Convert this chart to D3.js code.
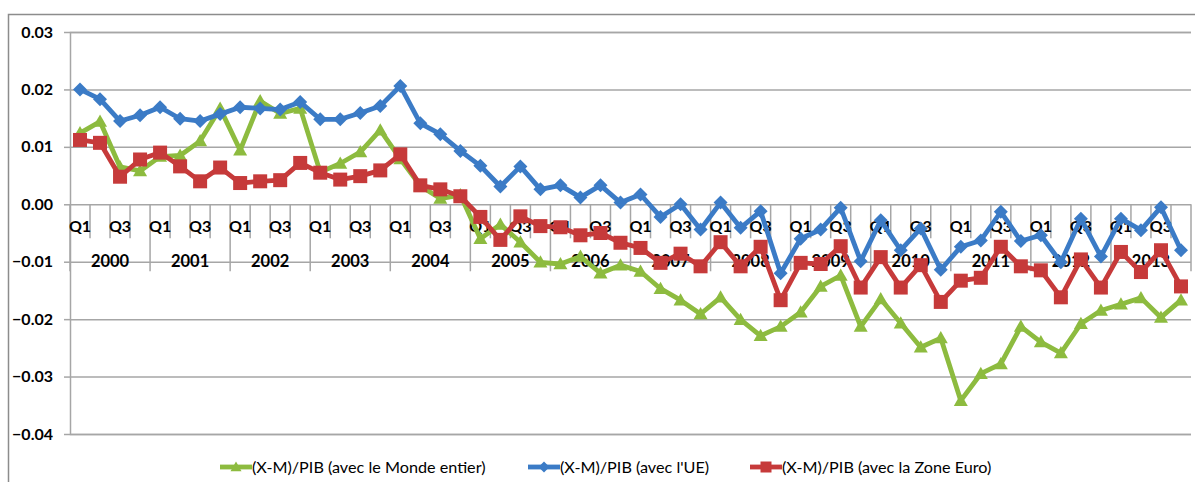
<!DOCTYPE html>
<html>
<head>
<meta charset="utf-8">
<script src="https://cdn.jsdelivr.net/npm/d3@7"></script>
<style>
  html, body { margin: 0; padding: 0; background: #fff; }
  svg { display: block; }
  text { font-family: Lato, "Open Sans", sans-serif; fill: #000; }
</style>
</head>
<body>
<svg id="chart" width="1195" height="482"></svg>
<script>
// Quarterly trade balance ratios, 2000 Q1 – 2013 Q4
const years = [2000, 2001, 2002, 2003, 2004, 2005, 2006, 2007, 2008, 2009, 2010, 2011, 2012, 2013];
const quarterLabels = ["Q1", "", "Q3", ""];
const yTicks = [0.03, 0.02, 0.01, 0.00, -0.01, -0.02, -0.03, -0.04];

const monde = [
  0.0124, 0.0144, 0.0065, 0.0058, 0.0083, 0.0085, 0.0110, 0.0167,
  0.0094, 0.0180, 0.0158, 0.0167, 0.0056, 0.0071, 0.0091, 0.0129,
  0.0079, 0.0032, 0.0010, 0.0016, -0.0060, -0.0035, -0.0066, -0.0101,
  -0.0104, -0.0091, -0.0120, -0.0106, -0.0117, -0.0147, -0.0167, -0.0191,
  -0.0162, -0.0201, -0.0229, -0.0213, -0.0188, -0.0143, -0.0124, -0.0213,
  -0.0165, -0.0207, -0.0249, -0.0233, -0.0342, -0.0295, -0.0278, -0.0213,
  -0.0240, -0.0259, -0.0208, -0.0185, -0.0174, -0.0163, -0.0197, -0.0167
];
const ue = [
  0.0200, 0.0183, 0.0145, 0.0155, 0.0169, 0.0149, 0.0145, 0.0157,
  0.0169, 0.0167, 0.0165, 0.0178, 0.0148, 0.0148, 0.0159, 0.0171,
  0.0206, 0.0141, 0.0122, 0.0093, 0.0067, 0.0031, 0.0066, 0.0026,
  0.0033, 0.0012, 0.0033, 0.0003, 0.0017, -0.0022, 0.0000, -0.0044,
  0.0003, -0.0041, -0.0012, -0.0120, -0.0060, -0.0044, -0.0006, -0.0099,
  -0.0028, -0.0080, -0.0042, -0.0114, -0.0074, -0.0063, -0.0013, -0.0064,
  -0.0054, -0.0101, -0.0025, -0.0091, -0.0025, -0.0045, -0.0005, -0.0080
];
const zoneEuro = [
  0.0112, 0.0107, 0.0048, 0.0078, 0.0090, 0.0066, 0.0040, 0.0064,
  0.0037, 0.0040, 0.0042, 0.0072, 0.0055, 0.0043, 0.0049, 0.0059,
  0.0087, 0.0033, 0.0026, 0.0014, -0.0022, -0.0062, -0.0021, -0.0038,
  -0.0040, -0.0054, -0.0050, -0.0067, -0.0076, -0.0102, -0.0086, -0.0108,
  -0.0066, -0.0108, -0.0074, -0.0167, -0.0102, -0.0104, -0.0073, -0.0145,
  -0.0092, -0.0145, -0.0106, -0.0170, -0.0133, -0.0128, -0.0074, -0.0108,
  -0.0115, -0.0162, -0.0096, -0.0145, -0.0083, -0.0118, -0.0080, -0.0143
];

const seriesNames = [
  "(X-M)/PIB (avec le Monde entier)",
  "(X-M)/PIB (avec l'UE)",
  "(X-M)/PIB (avec la Zone Euro)"
];
const seriesColors = ["#8DBB3F", "#3B7BC6", "#C63A3A"];
const seriesMarkers = ["triangle", "diamond", "square"];
const seriesValues = [monde, ue, zoneEuro];

const svg = d3.select("#chart");
const plot = { left: 70, right: 1191, top: 32, bottom: 434 };

// quarters as an index sequence
const nQ = years.length * 4;
const idx = d3.range(nQ);

const x = d3.scaleBand().domain(idx).range([plot.left, plot.right]).paddingInner(0).paddingOuter(0);
const cx = i => x(i) + x.bandwidth() / 2;
const y = d3.scaleLinear().domain([-0.04, 0.03]).range([plot.bottom, plot.top]);

// outer chart frame
svg.append("rect")
  .attr("x", 8.5).attr("y", 14.5)
  .attr("width", 1195).attr("height", 480)
  .attr("fill", "none").attr("stroke", "#8c8c8c").attr("stroke-width", 1.5);

// horizontal gridlines + value labels
const yAxis = d3.axisLeft(y)
  .tickValues(yTicks)
  .tickSize(-(plot.right - plot.left))
  .tickPadding(17)
  .tickFormat(d3.format(".2f"));

const gy = svg.append("g")
  .attr("transform", `translate(${plot.left},0)`)
  .call(yAxis);
gy.select(".domain").attr("stroke", "#a6a6a6").attr("stroke-width", 1.5);
gy.selectAll(".tick line").attr("stroke", "#a6a6a6").attr("stroke-width", 1.5);
gy.selectAll(".tick text")
  .attr("font-size", 16).attr("font-weight", "bold")
  .attr("font-family", "Lato, sans-serif")
  .attr("fill", "#000");
// left ticks outside the axis line
gy.selectAll(".tick").append("line")
  .attr("x1", -6).attr("x2", 0)
  .attr("stroke", "#a6a6a6").attr("stroke-width", 1.5);

// category axis drawn at zero
const y0 = y(0);
const gx = svg.append("g");
// quarter separators
gx.selectAll("line.q")
  .data(d3.range(nQ + 1))
  .join("line")
  .attr("class", "q")
  .attr("x1", i => i < nQ ? x(i) : plot.right)
  .attr("x2", i => i < nQ ? x(i) : plot.right)
  .attr("y1", y0)
  .attr("y2", i => (i % 4 === 0) ? y0 + 67 : y0 + 34)
  .attr("stroke", "#a6a6a6").attr("stroke-width", 1.5);

gx.selectAll("text.ql")
  .data(idx.filter(i => quarterLabels[i % 4] !== ""))
  .join("text")
  .attr("class", "ql")
  .attr("x", cx)
  .attr("y", y0 + 22)
  .attr("dy", "0.35em")
  .attr("text-anchor", "middle")
  .attr("font-size", 16).attr("font-weight", "bold")
  .text(i => quarterLabels[i % 4]);

gx.selectAll("text.yl")
  .data(years)
  .join("text")
  .attr("class", "yl")
  .attr("x", (d, k) => (x(k * 4) + (k * 4 + 4 < nQ ? x(k * 4 + 4) : plot.right)) / 2)
  .attr("y", y0 + 57)
  .attr("dy", "0.35em")
  .attr("text-anchor", "middle")
  .attr("font-size", 16.5).attr("font-weight", "bold")
  .text(d => d);

// marker shapes
function markerPath(type, s) {
  const h = s / 2;
  if (type === "diamond") return `M0,${-h}L${h},0L0,${h}L${-h},0Z`;
  if (type === "square") return `M${-h},${-h}H${h}V${h}H${-h}Z`;
  // triangle
  return `M0,${-h}L${h},${h * 0.75}L${-h},${h * 0.75}Z`;
}
const markerSize = { diamond: 14, square: 14, triangle: 14 };

const line = d3.line().x((d, i) => cx(i)).y(d => y(d));

seriesValues.forEach((vals, s) => {
  const g = svg.append("g");
  g.append("path")
    .attr("d", line(vals))
    .attr("fill", "none")
    .attr("stroke", seriesColors[s])
    .attr("stroke-width", 4.8)
    .attr("stroke-linejoin", "round");
  g.selectAll("path.m")
    .data(vals)
    .join("path")
    .attr("class", "m")
    .attr("transform", (d, i) => `translate(${cx(i)},${y(d)})`)
    .attr("d", markerPath(seriesMarkers[s], markerSize[seriesMarkers[s]]))
    .attr("fill", seriesColors[s]);
});

// legend
const legend = svg.append("g");
const legendX = [220, 528, 750];
seriesNames.forEach((name, s) => {
  const lg = legend.append("g").attr("transform", `translate(${legendX[s]},467)`);
  lg.append("line")
    .attr("x1", 0).attr("x2", 32)
    .attr("stroke", seriesColors[s]).attr("stroke-width", 4.8);
  lg.append("path")
    .attr("transform", "translate(16,0)")
    .attr("d", markerPath(seriesMarkers[s], 11))
    .attr("fill", seriesColors[s]);
  lg.append("text")
    .attr("x", 32).attr("dy", "0.35em")
    .attr("font-size", 16.2)
    .text(name);
});
</script>
</body>
</html>
